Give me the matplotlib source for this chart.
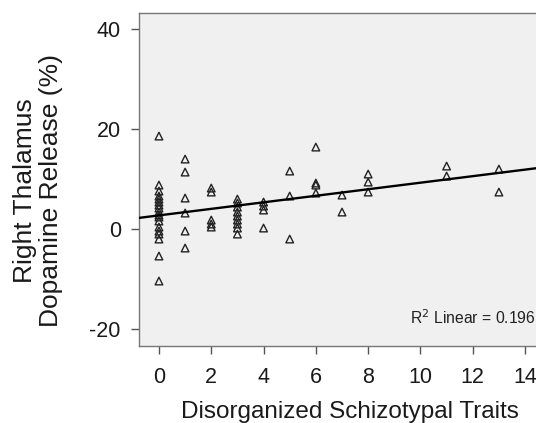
import numpy as np
import matplotlib
matplotlib.use("Agg")
import matplotlib.pyplot as plt

plt.rcParams['font.family'] = ['Liberation Sans', 'DejaVu Sans']
plt.rcParams['axes.unicode_minus'] = False

# Data (x = trait score, y = dopamine release %)
x0 = [0]*18
y0 = [18.6, 8.8, 7.6, 6.6, 6.0, 5.4, 4.8, 4.2, 3.4, 2.8, 2.4, 1.6, 0.4, -0.4, -1.0, -2.0, -5.4, -10.4]
x1 = [1]*6
y1 = [14.0, 11.4, 6.2, 3.2, -0.4, -3.8]
x2 = [2]*5
y2 = [8.2, 7.4, 1.8, 1.0, 0.4]
x3 = [3]*9
y3 = [6.0, 5.2, 4.4, 3.4, 2.6, 1.8, 1.0, 0.2, -1.0]
x4 = [4]*4
y4 = [5.4, 4.6, 3.8, 0.2]
x5 = [5]*3
y5 = [11.6, 6.6, -2.0]
x6 = [6]*4
y6 = [16.4, 9.2, 8.8, 7.2]
x7 = [7]*2
y7 = [6.8, 3.4]
x8 = [8]*3
y8 = [11.0, 9.4, 7.4]
x11 = [11]*2
y11 = [12.6, 10.6]
x13 = [13]*2
y13 = [12.0, 7.4]

traits = np.array(x0 + x1 + x2 + x3 + x4 + x5 + x6 + x7 + x8 + x11 + x13, dtype=float)
release = np.array(y0 + y1 + y2 + y3 + y4 + y5 + y6 + y7 + y8 + y11 + y13, dtype=float)

r2_label = "R$^2$ Linear = 0.196"
xticks = [0, 2, 4, 6, 8, 10, 12, 14]
yticks = [-20, 0, 20, 40]

fig = plt.figure(figsize=(5.36, 4.23), dpi=100)
ax = fig.add_axes([0.259, 0.182, 0.745, 0.787])
ax.set_facecolor('#f0f0f0')

ax.scatter(traits, release, marker='^', s=30, facecolors='none',
           edgecolors='#222222', linewidths=1.0, zorder=3)

slope, intercept = np.polyfit(traits, release, 1)
xl = np.array([-1.0, 15.0])
ax.plot(xl, intercept + slope * xl, color='black', lw=1.7, zorder=4)

ax.set_xlim(-0.77, 14.5)
ax.set_ylim(-23.4, 43.2)
ax.set_xticks(xticks)
ax.set_yticks(yticks)
ax.tick_params(axis='both', direction='out', length=6, width=1, color='#555555',
               labelsize=15.5, labelcolor='#1a1a1a')
ax.tick_params(axis='x', pad=9)
ax.tick_params(axis='y', pad=7)
for s in ['left', 'bottom', 'top']:
    ax.spines[s].set_color('#777777')
    ax.spines[s].set_linewidth(1)
ax.spines['right'].set_visible(False)

ax.set_xlabel('Disorganized Schizotypal Traits', fontsize=17.5, color='#1a1a1a')
ax.xaxis.set_label_coords(0.529, -0.165)
ax.set_ylabel('Right Thalamus\nDopamine Release (%)', fontsize=19, color='#1a1a1a',
              linespacing=1.1)
ax.yaxis.set_label_coords(-0.19, 0.468)

ax.text(0.995, 0.085, r2_label, transform=ax.transAxes, ha='right', va='center',
        fontsize=11.3, color='#222222')

fig.savefig('out.png', dpi=100, facecolor='white')
